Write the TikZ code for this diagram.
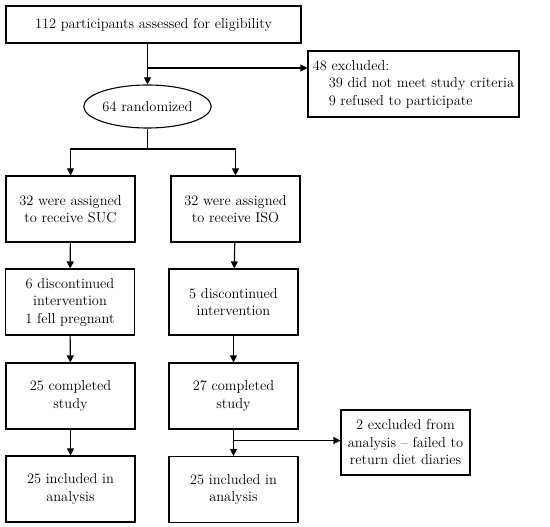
\documentclass[tikz,border=0pt]{standalone}
\usetikzlibrary{shapes.geometric,arrows.meta}
\begin{document}
\begin{tikzpicture}[x=1pt,y=-1pt,line width=1.1pt,font=\fontsize{14.4}{17.5}\selectfont,
  >={Triangle[length=7pt,width=7pt]},
  box/.style={draw,rectangle,align=center,minimum width=129pt,minimum height=66pt,inner sep=2pt}]
 \useasboundingbox (0,0) rectangle (550,527);
 \path 	(153.5,24.5) 	node[box,minimum width=295pt,minimum height=37pt] (assess) {112 participants assessed for eligibility}
 	(413.5,84) 	node[box,align=left,minimum width=211pt] (excl) {48 excluded:\\\hspace*{1.1em}39 did not meet study criteria\\\hspace*{1.1em}9 refused to participate}
 	(147.5,106.5) 	node[draw,ellipse,inner sep=0pt,minimum width=127pt,minimum height=43pt] (rand) {64 randomized}
 	(70.5,209) 	node[box] (suc) {32 were assigned\\to receive SUC}
 	(235.5,209) 	node[box] (iso) {32 were assigned\\to receive ISO}
 	(70,302) 	node[box] (dsuc) {6 discontinued\\intervention\\1 fell pregnant}
 	(233.5,302) 	node[box] (diso) {5 discontinued\\intervention}
 	(70.5,396) 	node[box] (csuc) {25 completed\\study}
 	(233.5,396) 	node[box] (ciso) {27 completed\\study}
 	(70.5,489) 	node[box] (isuc) {25 included in\\analysis}
 	(233.5,489.5) 	node[box] (iiso) {25 included in\\analysis}
 	(405.5,442.5) 	node[box,minimum height=65pt] (exan) {2 excluded from\\analysis -- failed to\\return diet diaries};
 \coordinate (split1) at (rand.north |- 0,68);
 \coordinate (split2) at (rand.south |- 0,149);
 \coordinate (split3) at ([yshift=-11pt]ciso.south);
 \draw[->] (assess.south -| rand.north) -- (rand.north);
 \draw[->] (split1) -- (split1 -| excl.west);
 \draw (rand.south) -- (split2);
 \draw[->] (split2) -| (suc.north);
 \draw[->] (split2) -| (iso.north);
 \draw[->] (suc) -- (dsuc);
 \draw[->] (iso) -- (diso);
 \draw[->] (dsuc) -- (csuc);
 \draw[->] (diso) -- (ciso);
 \draw[->] (csuc) -- (isuc);
 \draw[->] (ciso) -- (iiso);
 \draw[->] (split3) -- (split3 -| exan.west);
\end{tikzpicture}
\end{document}
